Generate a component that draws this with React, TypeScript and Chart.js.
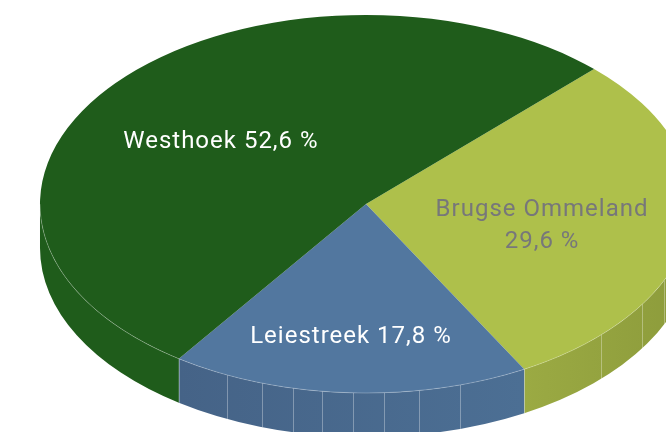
import React, { useEffect, useRef } from "react";
import { Chart, registerables } from "chart.js";

Chart.register(...registerables);

const categories = ["Brugse Ommeland", "Leiestreek", "Westhoek"];
const values = [29.6, 17.8, 52.6];
const topColors = ["#AEC04B", "#52779F", "#1F5C1B"];
const wallStops = [
  ["#9BAA43", "#8C9B3B"],
  ["#456387", "#4C6F94"],
  ["#1F5C1B", "#1F5C1B"],
];
const labelColors = ["#77777A", "#FFFFFF", "#FFFFFF"];
// seam angles on the side wall, degrees clockwise from 12 o'clock
const seamAngles = [113.9, 122, 133.9, 163.2, 170.6, 176.8, 182.3, 187.7, 193, 198.6, 205.3];

const TILT = 189 / 326;
const DEPTH = 44;
const FONT = '24px "Roboto"';
const labelAnchors = [
  [0.54, 0.115],
  [-0.046, 0.705],
  [-0.445, -0.33],
];

const pie3d = {
  id: "pie3d",
  beforeDatasetsDraw(chart: any) {
    const ctx = chart.ctx as CanvasRenderingContext2D;
    const arcs = chart.getDatasetMeta(0).data as any[];
    const { x: cx, y: cy, outerRadius: r } = arcs[0];
    const ry = r * TILT;
    const norm = (a: number) => {
      const t = Math.PI * 2;
      return ((a % t) + t) % t;
    };
    ctx.save();
    arcs.forEach((arc, i) => {
      let a0 = norm(arc.startAngle);
      let a1 = a0 + (arc.endAngle - arc.startAngle);
      const ranges: [number, number][] = [];
      for (const shift of [0, Math.PI * 2, -Math.PI * 2]) {
        const s = Math.max(a0 + shift, 0);
        const e = Math.min(a1 + shift, Math.PI);
        if (e > s) ranges.push([s, e]);
      }
      for (const [s, e] of ranges) {
        const xs = cx + r * Math.cos(s);
        const xe = cx + r * Math.cos(e);
        const g = ctx.createLinearGradient(Math.min(xs, xe), 0, Math.max(xs, xe), 0);
        g.addColorStop(0, wallStops[i][0]);
        g.addColorStop(1, wallStops[i][1]);
        ctx.beginPath();
        ctx.ellipse(cx, cy, r, ry, 0, s, e);
        ctx.ellipse(cx, cy + DEPTH, r, ry, 0, e, s, true);
        ctx.closePath();
        ctx.fillStyle = g;
        ctx.fill();
      }
    });
    // seams
    ctx.lineWidth = 1;
    ctx.strokeStyle = "rgba(255,255,255,0.32)";
    const boundaries = arcs.map((a) => (a.endAngle * 180) / Math.PI + 90);
    [...seamAngles, boundaries[0], boundaries[1]].forEach((deg) => {
      const a = ((deg - 90) * Math.PI) / 180;
      const x = Math.round(cx + r * Math.cos(a)) + 0.5;
      const y = cy + ry * Math.sin(a);
      ctx.beginPath();
      ctx.moveTo(x, y);
      ctx.lineTo(x, y + DEPTH);
      ctx.stroke();
    });
    ctx.restore();
    // the library's arcs are drawn squashed into the tilted ellipse
    ctx.save();
    ctx.translate(cx, cy);
    ctx.scale(1, TILT);
    ctx.translate(-cx, -cy);
  },
  afterDatasetsDraw(chart: any) {
    const ctx = chart.ctx as CanvasRenderingContext2D;
    ctx.restore();
    const arcs = chart.getDatasetMeta(0).data as any[];
    const { x: cx, y: cy, outerRadius: r } = arcs[0];
    const ry = r * TILT;
    // rim highlight on the front edge
    ctx.save();
    ctx.lineWidth = 0.7;
    ctx.strokeStyle = "rgba(255,255,255,0.36)";
    ctx.beginPath();
    ctx.ellipse(cx, cy, r, ry, 0, 0, Math.PI);
    ctx.stroke();
    ctx.restore();
    // labels
    ctx.save();
    ctx.font = FONT;
    (ctx as any).letterSpacing = "1px";
    ctx.textAlign = "center";
    ctx.textBaseline = "middle";
    categories.forEach((name, i) => {
      const x = cx + labelAnchors[i][0] * r;
      const y = cy + labelAnchors[i][1] * ry;
      const pct = `${String(values[i]).replace(".", ",")} %`;
      ctx.fillStyle = labelColors[i];
      if (i === 0) {
        ctx.fillText(name, x, y - 16);
        ctx.fillText(pct, x, y + 16);
      } else {
        ctx.fillText(`${name} ${pct}`, x, y);
      }
    });
    ctx.restore();
  },
};

export default function App() {
  const ref = useRef<HTMLCanvasElement>(null);
  useEffect(() => {
    document.body.style.margin = "0";
    const chart = new Chart(ref.current!, {
      type: "pie",
      data: {
        labels: categories,
        datasets: [
          {
            data: values,
            backgroundColor: topColors,
            borderWidth: 0,
            clip: false,
            radius: 326,
          } as any,
        ],
      },
      options: {
        responsive: false,
        animation: false,
        rotation: 44.4,
        layout: { padding: { left: 66, bottom: 24 } },
        plugins: { legend: { display: false }, tooltip: { enabled: false } },
      },
      plugins: [pie3d],
    });
    return () => chart.destroy();
  }, []);
  return <canvas ref={ref} width={666} height={432} style={{ display: "block" }} />;
}
